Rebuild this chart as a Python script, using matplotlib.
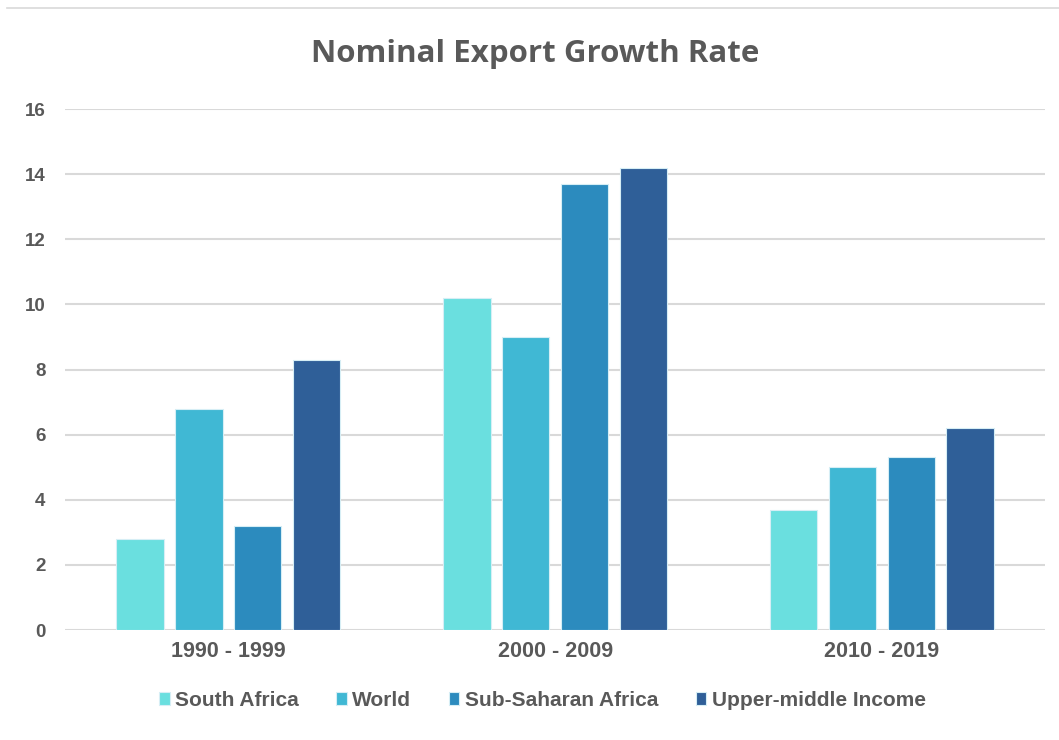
import matplotlib.pyplot as plt
import numpy as np

periods = ['1990 - 1999', '2000 - 2009', '2010 - 2019']
series = ['South Africa', 'World', 'Sub-Saharan Africa', 'Upper-middle Income']
south_africa = [2.8, 10.2, 3.7]
world = [6.8, 9.0, 5.0]
sub_saharan = [3.2, 13.7, 5.3]
upper_middle = [8.3, 14.2, 6.2]
colors = ['#6adfdf', '#40b8d4', '#2c8bbe', '#2f5f98']

values = [south_africa, world, sub_saharan, upper_middle]
txt = '#595959'

fig = plt.figure(figsize=(10.59, 7.4), dpi=100)
ax = fig.add_axes([0.0614, 0.1486, 0.9256, 0.7041])

x = np.arange(len(periods))
step = 0.18
width = 0.145
for i, (vals, name, c) in enumerate(zip(values, series, colors)):
    ax.bar(x + (i - 1.5) * step, vals, width, color=c, label=name,
           edgecolor='#d6eef5', linewidth=0.8, zorder=3)

ax.set_xlim(-0.5, 2.5)
ax.set_ylim(0, 16)
ax.set_yticks(range(0, 17, 2))
ax.set_xticks(x)
ax.set_xticklabels(periods)
ax.grid(axis='y', color='#d9d9d9', linewidth=1.5, zorder=0)
for s in ax.spines.values():
    s.set_visible(False)
ax.tick_params(length=0, labelcolor=txt)
ax.tick_params(axis='y', labelsize=13.5, pad=14)
ax.tick_params(axis='x', labelsize=15.5, pad=8)
for lab in ax.get_xticklabels() + ax.get_yticklabels():
    lab.set_fontfamily('Liberation Sans')
    lab.set_fontweight('bold')

fig.text(0.505, 0.927, 'Nominal Export Growth Rate', ha='center', va='center',
         fontsize=22.5, fontweight='bold', color=txt, family='Open Sans')
fig.add_artist(plt.Line2D([0.007, 1], [0.989, 0.989], color='#d9d9d9', lw=1.2))

leg = fig.legend(loc='center', bbox_to_anchor=(0.512, 0.054), ncol=4, frameon=False,
                 handlelength=0.52, handleheight=0.57, handletextpad=0.25, columnspacing=1.8,
                 prop={'family': 'Liberation Sans', 'size': 15, 'weight': 'bold'})
for t in leg.get_texts():
    t.set_color(txt)

fig.savefig('out.png', dpi=100)
